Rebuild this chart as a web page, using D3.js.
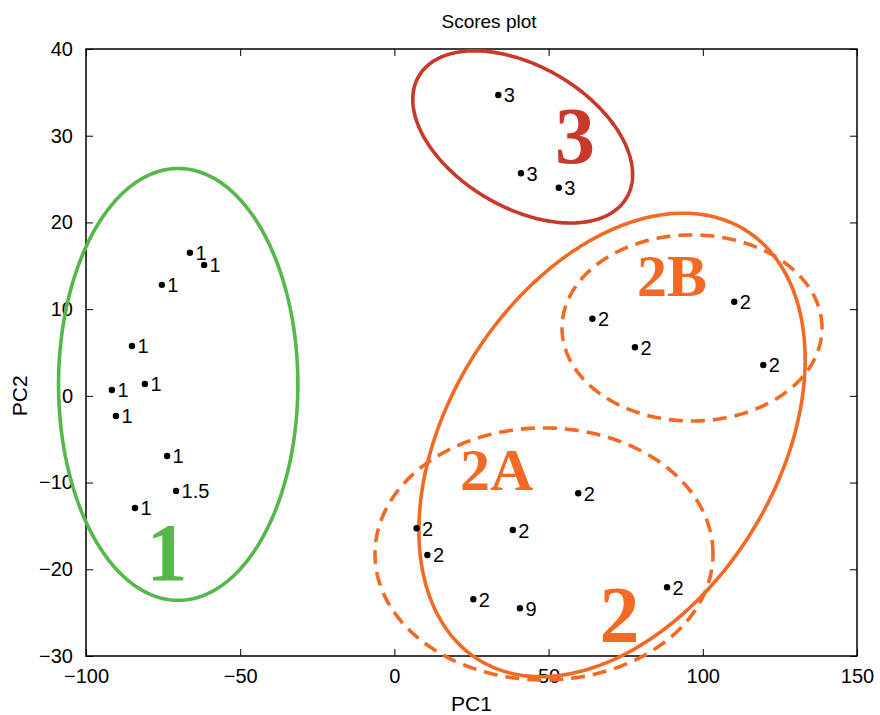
<!DOCTYPE html>
<html>
<head>
<meta charset="utf-8">
<script src="https://cdn.jsdelivr.net/npm/d3@7"></script>
<style>
  html, body { margin: 0; padding: 0; background: #fff; }
  svg { display: block; }
  text { font-family: "Liberation Sans", Arial, sans-serif; }
</style>
</head>
<body>
<svg id="chart" width="880" height="715"></svg>
<script>
// Sample scores on the first two principal components
const pc1 = [-66.3, -61.7, -75.4, -85.1, -91.6, -80.9, -90.3, -73.7, -70.8, -84.1,
             33.7, 41.05, 53.3,
             64.2, 78.0, 110.2, 119.6,
             59.6, 7.2, 10.7, 38.4, 25.6, 40.7, 88.4];
const pc2 = [16.5, 15.1, 12.8, 5.75, 0.68, 1.37, -2.32, -6.93, -10.97, -12.93,
             34.7, 25.67, 24.0,
             8.9, 5.6, 10.86, 3.56,
             -11.23, -15.27, -18.35, -15.47, -23.46, -24.5, -22.07];
const sampleLabels = ["1", "1", "1", "1", "1", "1", "1", "1", "1.5", "1",
                      "3", "3", "3",
                      "2", "2", "2", "2",
                      "2", "2", "2", "2", "2", "9", "2"];

const xTicks = [-100, -50, 0, 50, 100, 150];
const yTicks = [-30, -20, -10, 0, 10, 20, 30, 40];

// Group ellipses: centre and two semi-axis vectors, all in PC units
const groupNames   = ["1", "3", "2", "2B", "2A"];
const groupCentres = [[-70.1, 1.32], [41.6, 29.86], [70.56, -5.66], [96.5, 7.83], [48.5, -18.23]];
const groupAxisA   = [[38.8, 0], [33.72, -6.99], [43.13, 24.8], [42.15, 0], [54.8, 0]];
const groupAxisB   = [[0, 24.9], [-11.54, -7.05], [45.4, -9.96], [0, 10.73], [0, 14.53]];
const groupColors  = ["#56b84a", "#c9392b", "#f26a23", "#f26a23", "#f26a23"];
const groupDashed  = [false, false, false, true, true];

// Large group captions, placed at PC coordinates
const captionText   = ["1", "3", "2", "2B", "2A"];
const captionPos    = [[-73.7, -21.2], [58.6, 26.8], [73.0, -28.4], [90.0, 11.5], [33.2, -10.9]];
const captionSize   = [82, 80, 80, 60, 60];
const captionColors = ["#56b84a", "#c9392b", "#f26a23", "#f26a23", "#f26a23"];

const svg = d3.select("#chart");
const margin = { left: 86, right: 23, top: 49, bottom: 59 };
const W = 880, H = 715;

const x = d3.scaleLinear().domain([-100, 150]).range([margin.left, W - margin.right]);
const y = d3.scaleLinear().domain([-30, 40]).range([H - margin.bottom, margin.top]);

// Frame
svg.append("rect")
  .attr("x", x(-100)).attr("y", y(40))
  .attr("width", x(150) - x(-100)).attr("height", y(-30) - y(40))
  .attr("fill", "none").attr("stroke", "#000").attr("stroke-width", 1.5);

const tickLen = 7;
const axisFont = "20px";

// Bottom axis with inward ticks
const gx = svg.append("g").attr("transform", `translate(0,${y(-30)})`)
  .call(d3.axisBottom(x).tickValues(xTicks).tickSize(-tickLen).tickPadding(tickLen + 6).tickFormat(d3.format("d")));
// Top axis, ticks only
const gxt = svg.append("g").attr("transform", `translate(0,${y(40)})`)
  .call(d3.axisTop(x).tickValues(xTicks).tickSize(-tickLen).tickFormat(""));
// Left axis with inward ticks
const gy = svg.append("g").attr("transform", `translate(${x(-100)},0)`)
  .call(d3.axisLeft(y).tickValues(yTicks).tickSize(-tickLen).tickPadding(tickLen + 6).tickFormat(d3.format("d")));
// Right axis, ticks only
const gyr = svg.append("g").attr("transform", `translate(${x(150)},0)`)
  .call(d3.axisRight(y).tickValues(yTicks).tickSize(-tickLen).tickFormat(""));

[gx, gxt, gy, gyr].forEach(g => {
  g.select(".domain").remove();
  g.selectAll(".tick line").attr("stroke", "#000").attr("stroke-width", 1);
  g.selectAll(".tick text").attr("fill", "#000").style("font-size", axisFont)
    .style("font-family", "'Liberation Sans', Arial, sans-serif");
});

// Titles
svg.append("text").attr("x", 489).attr("y", 28).attr("text-anchor", "middle")
  .style("font-size", "19px").text("Scores plot");
svg.append("text").attr("x", x(25)).attr("y", 711).attr("text-anchor", "middle")
  .style("font-size", "21px").text("PC1");
svg.append("text").attr("transform", `translate(27,${y(0)}) rotate(-90)`).attr("text-anchor", "middle")
  .style("font-size", "21px").text("PC2");

// Group ellipses traced through the scales
const steps = d3.range(0, 360, 1).map(d => d * Math.PI / 180);
const ellipseLine = d3.line().curve(d3.curveLinearClosed);
groupNames.forEach((name, i) => {
  const [cx, cy] = groupCentres[i];
  const [ax, ay] = groupAxisA[i];
  const [bx, by] = groupAxisB[i];
  const pts = steps.map(t => [
    x(cx + ax * Math.cos(t) + bx * Math.sin(t)),
    y(cy + ay * Math.cos(t) + by * Math.sin(t))
  ]);
  svg.append("path")
    .attr("d", ellipseLine(pts))
    .attr("fill", "none")
    .attr("stroke", groupColors[i])
    .attr("stroke-width", 3.6)
    .attr("stroke-dasharray", groupDashed[i] ? "14 8" : null);
});

// Group captions
captionText.forEach((t, i) => {
  svg.append("text")
    .attr("x", x(captionPos[i][0])).attr("y", y(captionPos[i][1]))
    .attr("text-anchor", "middle")
    .style("font-family", "'Liberation Serif', 'Times New Roman', serif")
    .style("font-weight", "bold")
    .style("font-size", captionSize[i] + "px")
    .attr("fill", captionColors[i])
    .text(t);
});

// Sample points and their class labels
const pts = pc1.map((v, i) => ({ x: v, y: pc2[i], label: sampleLabels[i] }));
svg.append("g").selectAll("circle").data(pts).join("circle")
  .attr("cx", d => x(d.x)).attr("cy", d => y(d.y)).attr("r", 3.2).attr("fill", "#000");
svg.append("g").selectAll("text").data(pts).join("text")
  .attr("x", d => x(d.x) + 5.5).attr("y", d => y(d.y) + 7.5)
  .style("font-size", "20px").attr("fill", "#000")
  .text(d => d.label);
</script>
</body>
</html>
